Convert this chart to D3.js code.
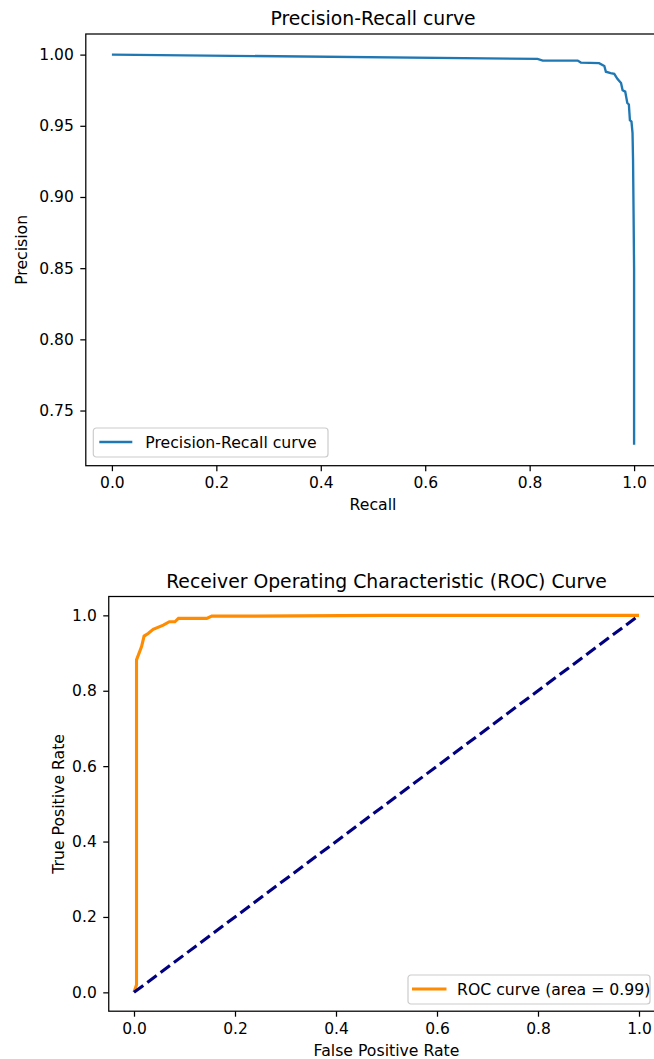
<!DOCTYPE html>
<html>
<head>
<meta charset="utf-8">
<script src="https://cdn.jsdelivr.net/npm/d3@7"></script>
<style>
  body { margin: 0; background: #fff; }
  svg { display: block; font-family: "DejaVu Sans", sans-serif; }
  .title { font-size: 18.8px; fill: #000; }
  .aLabel { font-size: 15.7px; fill: #000; }
  .legText { font-size: 15.7px; fill: #000; }
</style>
</head>
<body>
<div id="chart"></div>
<script>
// precision-recall curve
var recall = [0.0, 0.815, 0.825, 0.892, 0.898, 0.933, 0.943, 0.946, 0.955, 0.962, 0.968, 0.975, 0.978, 0.983, 0.987, 0.990, 0.992, 0.995, 0.997, 0.998, 0.999, 1.0, 1.0];
var precision = [1.0, 0.997, 0.9958, 0.9958, 0.9944, 0.994, 0.992, 0.988, 0.987, 0.9865, 0.983, 0.980, 0.975, 0.974, 0.966, 0.965, 0.954, 0.953, 0.945, 0.926, 0.889, 0.849, 0.726];

// ROC curve
var fpr = [0.0, 0.005, 0.005, 0.015, 0.02, 0.028, 0.038, 0.058, 0.07, 0.081, 0.088, 0.144, 0.154, 0.236, 0.5, 1.0];
var tpr = [0.0, 0.02, 0.882, 0.917, 0.945, 0.952, 0.963, 0.974, 0.983, 0.983, 0.992, 0.992, 0.998, 0.998, 1.0, 1.0];
var chanceX = [0, 1];
var chanceY = [0, 1];

var prTicksX = [0.0, 0.2, 0.4, 0.6, 0.8, 1.0];
var prTicksY = [0.75, 0.80, 0.85, 0.90, 0.95, 1.00];
var rocTicks = [0.0, 0.2, 0.4, 0.6, 0.8, 1.0];

var svgWidth = 654;
var svgHeight = 1059;

var svg = d3.select("#chart")
    .append("svg")
    .attr("width", svgWidth)
    .attr("height", svgHeight);

// draws one matplotlib-like panel
function panel(opt) {
    var g = svg.append("g");
    var x = d3.scaleLinear().domain(opt.xDomain).range([opt.left, opt.right]);
    var y = d3.scaleLinear().domain(opt.yDomain).range([opt.bottom, opt.top]);

    var xAxis = d3.axisBottom(x).tickValues(opt.xTicks).tickFormat(d3.format(".1f"))
        .tickSize(5.5).tickSizeOuter(0).tickPadding(5.5);
    var yAxis = d3.axisLeft(y).tickValues(opt.yTicks).tickFormat(d3.format(opt.yFmt))
        .tickSize(5.5).tickSizeOuter(0).tickPadding(6.5);

    var gx = g.append("g").attr("transform", `translate(0,${opt.bottom})`).call(xAxis);
    var gy = g.append("g").attr("transform", `translate(${opt.left},0)`).call(yAxis);
    [gx, gy].forEach(function(a) {
        a.select(".domain").remove();
        a.attr("font-family", null).attr("font-size", null);
        a.selectAll(".tick line").attr("stroke", "#000").attr("stroke-width", 1.25);
        a.selectAll(".tick text").attr("fill", "#000").style("font-size", "15.5px");
    });
    gx.selectAll("text").attr("dy", "0.76em");

    var lineGroup = g.append("g");
    opt.lines.forEach(function(l) {
        var pts = l.xs.map((v, i) => [v, l.ys[i]]);
        lineGroup.append("path")
            .datum(pts)
            .attr("fill", "none")
            .attr("stroke", l.color)
            .attr("stroke-width", l.width)
            .attr("stroke-dasharray", l.dash || null)
            .attr("d", d3.line().x(d => x(d[0])).y(d => y(d[1])));
    });

    // frame
    g.append("rect")
        .attr("x", opt.left)
        .attr("y", opt.top)
        .attr("width", opt.right - opt.left)
        .attr("height", opt.bottom - opt.top)
        .attr("fill", "none")
        .attr("stroke", "#000")
        .attr("stroke-width", 1.25);

    g.append("text").attr("class", "title")
        .attr("x", opt.frameMid).attr("y", opt.top - 9)
        .attr("text-anchor", "middle").text(opt.title);

    g.append("text").attr("class", "aLabel")
        .attr("x", opt.frameMid).attr("y", opt.xLabelY)
        .attr("text-anchor", "middle").text(opt.xLabel);

    g.append("text").attr("class", "aLabel")
        .attr("transform", `translate(${opt.yLabelX},${(opt.top + opt.bottom) / 2}) rotate(-90)`)
        .attr("text-anchor", "middle").text(opt.yLabel);

    // legend
    var lg = opt.leg;
    var leg = g.append("g").attr("transform", `translate(${lg.x},${lg.y})`);
    leg.append("rect")
        .attr("x", 0).attr("y", 0)
        .attr("width", lg.w).attr("height", 29)
        .attr("rx", 3).attr("ry", 3)
        .attr("fill", "#fff").attr("fill-opacity", 0.8)
        .attr("stroke", "#cccccc").attr("stroke-width", 1.2);
    var lc = opt.lines[0];
    leg.append("line")
        .attr("x1", lg.l1).attr("x2", lg.l2).attr("y1", 14).attr("y2", 14)
        .attr("stroke", lc.color).attr("stroke-width", lc.width);
    leg.append("text").attr("class", "legText")
        .attr("x", lg.tx).attr("y", 19.6).text(opt.legend);
}

// top: precision-recall
panel({
    xDomain: [-0.05, 1.05], left: 85.8, right: 660.2,
    yDomain: [0.71125, 1.01448], bottom: 465.7, top: 34,
    xTicks: prTicksX, yTicks: prTicksY, yFmt: ".2f",
    frameMid: 373,
    title: "Precision-Recall curve", xLabel: "Recall", yLabel: "Precision",
    xLabelY: 510, yLabelX: 27,
    lines: [{ xs: recall, ys: precision, color: "#1f77b4", width: 2.35 }],
    legend: "Precision-Recall curve",
    leg: { x: 93.3, y: 428, w: 234.7, l1: 6, l2: 39, tx: 52 }
});

// bottom: ROC
panel({
    xDomain: [-0.05, 1.05], left: 108.75, right: 664.25,
    yDomain: [-0.05, 1.05], bottom: 1011.2, top: 596.5,
    xTicks: rocTicks, yTicks: rocTicks, yFmt: ".1f",
    frameMid: 386.5,
    title: "Receiver Operating Characteristic (ROC) Curve",
    xLabel: "False Positive Rate", yLabel: "True Positive Rate",
    xLabelY: 1055.5, yLabelX: 63.5,
    lines: [
        { xs: fpr, ys: tpr, color: "darkorange", width: 3.1 },
        { xs: chanceX, ys: chanceY, color: "navy", width: 3.1, dash: "11.6,5" }
    ],
    legend: "ROC curve (area = 0.99)",
    leg: { x: 408, y: 975, w: 242, l1: 4, l2: 38.5, tx: 49 }
});
</script>
</body>
</html>
